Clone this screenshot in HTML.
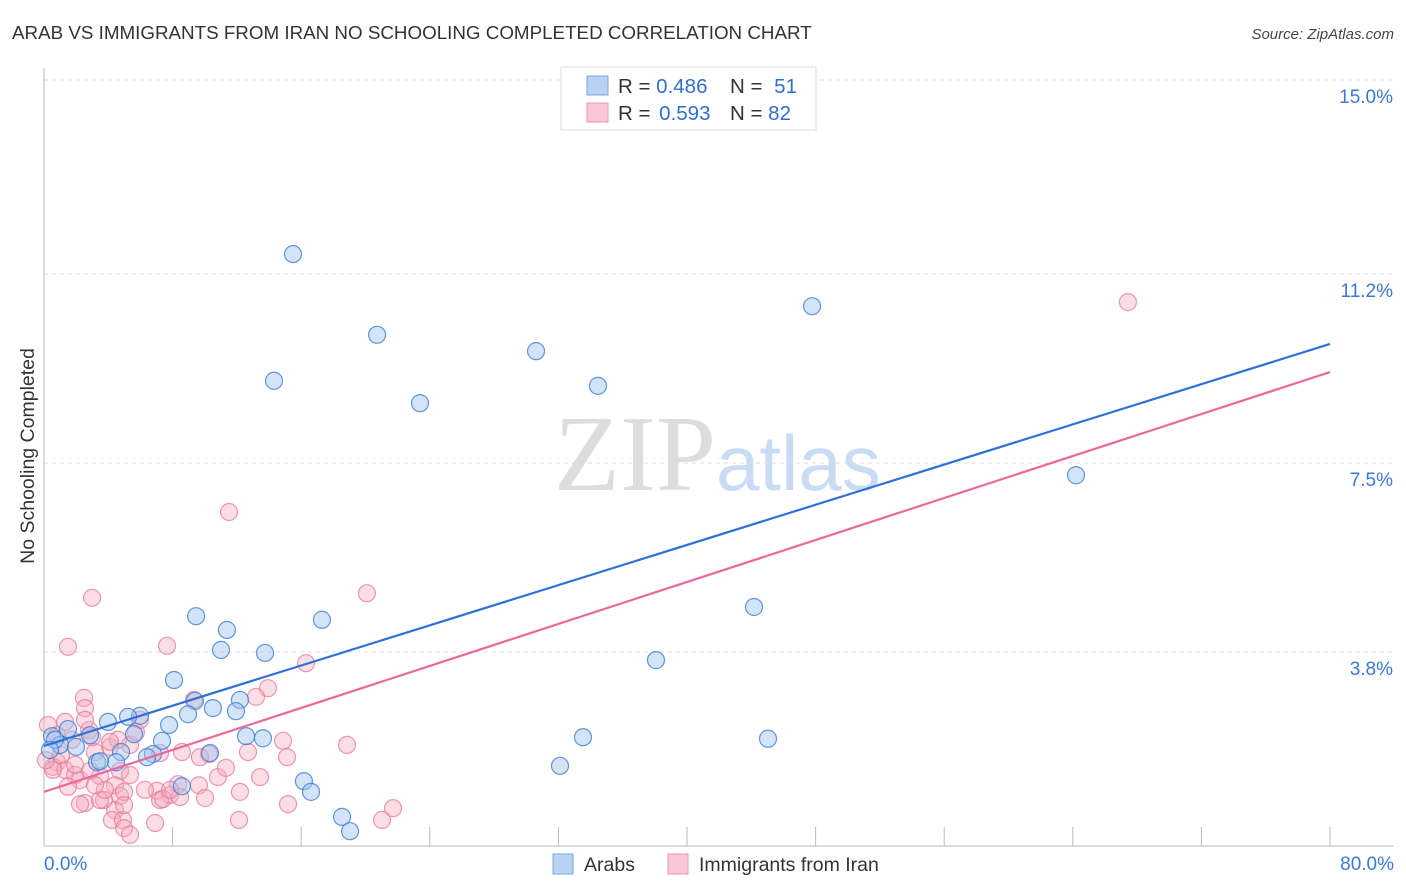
<!DOCTYPE html>
<html><head><meta charset="utf-8"><style>
body{margin:0;background:#fff;font-family:"Liberation Sans",sans-serif;}
#wrap{position:relative;width:1406px;height:892px;overflow:hidden;}
</style></head><body>
<div id="wrap">
<svg id="chart" width="1406" height="892">
<text x="12" y="39" font-size="18.8" fill="#333">ARAB VS IMMIGRANTS FROM IRAN NO SCHOOLING COMPLETED CORRELATION CHART</text>
<text x="1394" y="39" font-size="15" fill="#444" font-style="italic" text-anchor="end">Source: ZipAtlas.com</text>
<text x="0" y="0" transform="translate(34,456) rotate(-90)" font-size="19.5" fill="#333" text-anchor="middle">No Schooling Completed</text>
<text x="716" y="490" font-size="108" fill="#ddd" text-anchor="end" font-family="Liberation Serif,serif">ZIP</text>
<text x="716" y="490" font-size="78" fill="#c9dcf4">atlas</text>
<g id="grid"></g><g id="axes"></g><g id="lines"></g><g id="pts"></g>
<g>
<rect x="561" y="67" width="255" height="63" fill="#fff" stroke="#ddd"/>
<rect x="587" y="76" width="21" height="19" fill="#b8d2f4" stroke="#7aa5e0"/>
<rect x="587" y="103" width="21" height="19" fill="#f8c6d4" stroke="#eb9ab2"/>
<text x="618" y="93" font-size="20.5" fill="#333">R = <tspan fill="#2f6fd0">0.486</tspan></text>
<text x="730" y="93" font-size="20.5" fill="#333">N = <tspan fill="#2f6fd0" dx="6">51</tspan></text>
<text x="618" y="120" font-size="20.5" fill="#333">R = <tspan fill="#2f6fd0" dx="3">0.593</tspan></text>
<text x="730" y="120" font-size="20.5" fill="#333">N = <tspan fill="#2f6fd0">82</tspan></text>
</g>
<g>
<rect x="553" y="854" width="20" height="20" fill="#b8d2f4" stroke="#7aa5e0"/>
<text x="584" y="871" font-size="19.5" fill="#333">Arabs</text>
<rect x="668" y="854" width="20" height="20" fill="#f8c6d4" stroke="#eb9ab2"/>
<text x="699" y="871" font-size="19.5" fill="#333">Immigrants from Iran</text>
</g>
<text x="44" y="870" font-size="19" fill="#3b78d8">0.0%</text>
<text x="1394" y="870" font-size="19" fill="#3b78d8" text-anchor="end">80.0%</text>
</svg>
</div>
<script>
const yTicks=[15.0,11.2,7.5,3.8];
const yTickLabels=["15.0%","11.2%","7.5%","3.8%"];
const xTicks=[8,16,24,32,40,48,56,64,72,80];
const arabX=[15.49,20.72,14.31,23.39,30.61,34.46,47.78,64.2,44.17,38.07,33.53,32.1,45.04,9.46,11.38,17.29,11.01,13.75,8.09,9.39,10.51,12.19,11.94,8.96,7.78,5.97,5.23,3.98,5.6,7.34,10.33,12.57,13.62,6.78,6.41,4.79,4.48,3.3,3.48,1.49,0.5,1.0,0.68,0.37,1.99,2.86,16.17,16.61,8.58,18.54,19.04];
const arabY=[11.59,10.01,9.11,8.67,9.69,9.01,10.57,7.26,4.68,3.64,2.13,1.57,2.10,4.50,4.23,4.43,3.84,3.78,3.25,2.84,2.70,2.86,2.64,2.58,2.37,2.55,2.53,2.43,2.19,2.06,1.82,2.15,2.11,1.80,1.74,1.84,1.64,1.64,1.66,2.29,2.15,1.98,2.08,1.88,1.94,2.17,1.27,1.06,1.17,0.57,0.29];
const iranX=[67.43,11.51,20.09,2.99,1.49,7.65,16.3,13.93,13.19,9.33,2.49,2.55,18.85,14.87,12.69,10.26,8.58,7.22,5.35,4.11,3.17,2.8,1.31,0.25,1.74,2.99,4.6,5.72,0.81,0.56,1.31,1.93,2.24,3.48,1.49,2.86,4.73,5.35,10.82,11.32,13.44,9.64,8.34,7.84,7.03,7.22,4.42,4.73,4.98,3.73,2.55,2.24,4.42,4.23,4.91,4.98,5.35,3.48,10.02,12.19,15.18,21.71,21.03,12.13,6.91,15.12,0.56,0.12,1.06,1.93,9.7,7.4,3.79,3.17,2.55,5.97,8.46,6.28,7.84,0.81,4.11,4.98];
const iranY=[10.65,6.54,4.95,4.86,3.90,3.92,3.58,3.09,2.92,2.86,2.90,2.70,1.98,2.06,1.84,1.80,1.84,1.82,1.98,1.94,1.84,2.27,2.43,2.37,2.08,2.13,2.08,2.23,1.64,1.55,1.49,1.39,1.29,1.37,1.16,1.47,1.47,1.39,1.35,1.53,1.35,1.19,1.21,1.00,1.08,0.90,1.19,0.98,1.06,0.90,0.84,0.82,0.70,0.51,0.51,0.35,0.22,0.90,0.94,1.06,0.82,0.74,0.51,0.51,0.45,1.74,1.49,1.68,1.78,1.59,1.74,0.92,1.10,1.19,2.47,2.47,0.96,1.10,1.10,2.17,2.04,0.80];
const arabTrend=[1.96,9.83];
const iranTrend=[1.06,9.28];
const trendX=[0,80];
const sx=v=>44+v*16.075, sy=v=>846-v*51.07;
const NS="http://www.w3.org/2000/svg";
function mk(tag,attrs,parent){const e=document.createElementNS(NS,tag);for(const k in attrs)e.setAttribute(k,attrs[k]);parent.appendChild(e);return e;}
const grid=document.getElementById('grid'),axes=document.getElementById('axes'),lines=document.getElementById('lines'),pts=document.getElementById('pts');
yTicks.forEach((t,i)=>{
 const l=mk('line',{x1:44,x2:1394,y1:sy(t),y2:sy(t),stroke:'#ddd','stroke-dasharray':'4,4'},grid);
 
 
 const tx=mk('text',{x:1393,y:sy(t)+23,'font-size':19,fill:'#3b78d8','text-anchor':'end'},grid);
 tx.textContent=yTickLabels[i];
 
 
});
const ya=mk('line',{x1:44,x2:44,y1:68,y2:846,stroke:'#bbb'},axes);


const xa=mk('line',{x1:44,x2:1394,y1:846,y2:846,stroke:'#bbb'},axes);


xTicks.forEach(t=>{
 const l=mk('line',{x1:sx(t),x2:sx(t),y1:827,y2:846,stroke:'#bbb'},axes);
 
 
});
function scatter(xs,ys,fill,stroke,name){
 xs.forEach((x,i)=>{
  const c=mk('circle',{cx:sx(x),cy:sy(ys[i]),r:8.5,fill:fill,stroke:stroke,'stroke-width':1.2},pts);
  
  
 });
}
scatter(iranX,iranY,'rgba(244,170,192,0.4)','rgba(230,120,155,0.75)','iran-point');
scatter(arabX,arabY,'rgba(160,196,240,0.45)','rgba(60,125,210,0.8)','arab-point');
const lb=mk('line',{x1:sx(trendX[0]),y1:sy(arabTrend[0]),x2:sx(trendX[1]),y2:sy(arabTrend[1]),stroke:'#2f72d6','stroke-width':2.2},lines);


const lp=mk('line',{x1:sx(trendX[0]),y1:sy(iranTrend[0]),x2:sx(trendX[1]),y2:sy(iranTrend[1]),stroke:'#e8699a','stroke-width':2.2},lines);


document.getElementById('chart').appendChild(lines);
</script>
</body></html>
